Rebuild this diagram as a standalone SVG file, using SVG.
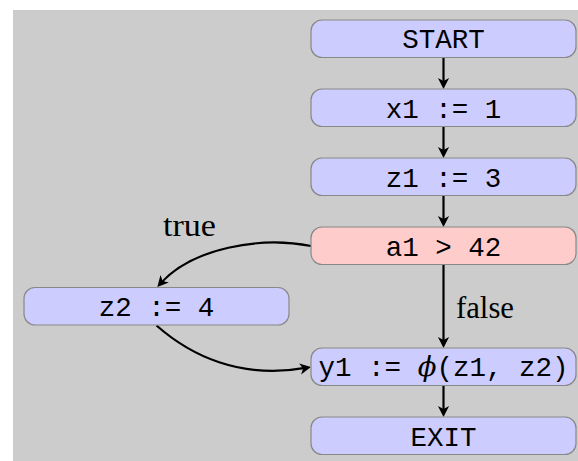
<svg xmlns="http://www.w3.org/2000/svg" width="578" height="461" viewBox="0 0 578 461">
  <style>
    .node rect { fill: #ccccff; stroke: #888888; stroke-width: 1.2; }
    .node.cond rect { fill: #ffcccc; }
    .node text { font-family: "Liberation Mono", "DejaVu Sans Mono", monospace; font-size: 27.5px; fill: #000; text-anchor: middle; }
    .edge { fill: none; stroke: #000; stroke-width: 2.2; marker-end: url(#arrow); }
    .lbl { font-family: "Liberation Serif", "DejaVu Serif", serif; font-size: 31px; fill: #000; }
    .phi { font-family: "DejaVu Serif", "Liberation Serif", serif; font-style: italic; }
  </style>
  <defs>
    <marker id="arrow" viewBox="-1 -7 14 14" markerWidth="14" markerHeight="14" markerUnits="userSpaceOnUse" refX="7" refY="0" orient="auto">
      <path d="M0,-5.6 L11,0 L0,5.6 L3,0 z" fill="#000"/>
    </marker>
  </defs>

  <!-- background panel -->
  <rect x="13" y="10" width="565" height="451" fill="#cccccc"/>

  <!-- connectors -->
  <g id="edges">
    <path class="edge" d="M443.5,57.5 L443.5,85"/>
    <path class="edge" d="M443.5,126.5 L443.5,154"/>
    <path class="edge" d="M443.5,196 L443.5,223"/>
    <path class="edge" d="M443.5,265 L443.5,344"/>
    <path class="edge" d="M443.5,385.5 L443.5,413"/>
    <path class="edge" d="M311,246 C260,236 192,248 160,284"/>
    <path class="edge" d="M156.5,325.5 C190,355 240,380 307,367.7"/>
  </g>

  <!-- edge labels -->
  <text class="lbl" x="163" y="236" textLength="53" lengthAdjust="spacingAndGlyphs">true</text>
  <text class="lbl" x="456" y="318" textLength="58" lengthAdjust="spacingAndGlyphs">false</text>

  <!-- nodes -->
  <g id="start" class="node">
    <rect x="311" y="20" width="265" height="37.5" rx="11"/>
    <text x="443.5" y="48">START</text>
  </g>
  <g id="x1" class="node">
    <rect x="311" y="89" width="265" height="37.5" rx="11"/>
    <text x="443.5" y="117.5">x1 := 1</text>
  </g>
  <g id="z1" class="node">
    <rect x="311" y="158" width="265" height="37.5" rx="11"/>
    <text x="443.5" y="186.5">z1 := 3</text>
  </g>
  <g id="a1" class="node cond">
    <rect x="311" y="227" width="265" height="37.5" rx="11"/>
    <text x="443.5" y="255.5">a1 &gt; 42</text>
  </g>
  <g id="z2" class="node">
    <rect x="24" y="287.5" width="265" height="37.5" rx="11"/>
    <text x="156.5" y="315.5">z2 := 4</text>
  </g>
  <g id="y1" class="node">
    <rect x="311" y="348" width="265" height="37.5" rx="11"/>
    <text x="443.5" y="376" xml:space="preserve"><tspan>y1 := </tspan><tspan class="phi">ϕ</tspan><tspan>(z1, z2)</tspan></text>
  </g>
  <g id="exit" class="node">
    <rect x="311" y="417" width="265" height="37.5" rx="11"/>
    <text x="443.5" y="445.5">EXIT</text>
  </g>
</svg>
